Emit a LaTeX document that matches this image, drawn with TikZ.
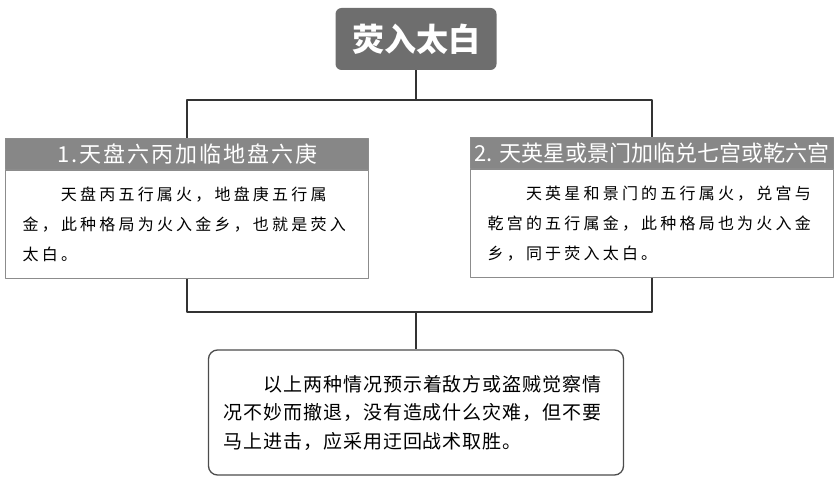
\documentclass[tikz,border=0pt]{standalone}
\usepackage{fontspec}
\setmainfont{Noto Sans CJK SC}
\newfontfamily\bodyfont[LetterSpace=20]{Noto Sans CJK SC}
\newfontfamily\notefont[LetterSpace=5]{Noto Sans CJK SC}
\newfontfamily\headfont[LetterSpace=9]{Noto Sans CJK SC}
\usetikzlibrary{positioning,calc}
\definecolor{titlegray}{HTML}{6E6E6E}
\definecolor{headgray}{HTML}{878787}
\definecolor{framegray}{HTML}{8C8C8C}
\definecolor{linegray}{HTML}{333333}

\begin{document}
\begin{tikzpicture}[join=round,x=1pt,y=-1pt,node distance=0pt]
		\tikzstyle{title_box}=[fill=titlegray, rounded corners=6pt, minimum width=161pt, minimum height=62pt, inner sep=0pt, text=white, font=\fontsize{32}{32}\selectfont\bfseries];
		\tikzstyle{head_bar}=[fill=headgray, draw=framegray, line width=1.2pt, minimum width=363pt, minimum height=31pt, inner sep=0pt, text=white, font=\fontsize{22}{22}\selectfont];
		\tikzstyle{body_box}=[draw=framegray, line width=1.2pt, fill=white, text width=329pt, inner xsep=17pt, inner ysep=0pt, minimum height=108pt, align=left, font=\bodyfont\fontsize{16}{30}\selectfont];
		\tikzstyle{end_box}=[draw=black!70, line width=1.3pt, rounded corners=9pt, fill=white, text width=385pt, inner xsep=15pt, inner ysep=0pt, minimum height=125pt, align=left, font=\notefont\fontsize{19}{28.5}\selectfont];
		\tikzstyle{conn_line}=[draw=linegray, line width=2.2pt];

		\useasboundingbox (0,0) rectangle (838,484);

		\coordinate (upbar) at (416,100);
		\coordinate (lowbar) at (416,312);

		\node[title_box] (title) at (416,39) {荧入太白};

		\node[head_bar, anchor=north west] (headA) at (5,138) {\headfont 1.天盘六丙加临地盘六庚};
		\node[body_box, below = of headA] (bodyA) {\hspace*{2.4em}天盘丙五行属火，地盘庚五行属\\金，此种格局为火入金乡，也就是荧入\\太白。};

		\node[head_bar, anchor=north west] (headB) at (470,137) {2. 天英星或景门加临兑七宫或乾六宫};
		\node[body_box, below = of headB] (bodyB) {\hspace*{2.4em}天英星和景门的五行属火，兑宫与\\乾宫的五行属金，此种格局也为火入金\\乡，同于荧入太白。};

		\node[end_box] (ending) at (416,412.5) {\hspace*{2.1em}以上两种情况预示着敌方或盗贼觉察情\\况不妙而撤退，没有造成什么灾难，但不要\\马上进击，应采用迂回战术取胜。};

		\draw[conn_line] (title.south) -- (upbar);
		\draw[conn_line] (headA.north) |- (upbar) -| (headB.north);
		\draw[conn_line] (bodyA.south) |- (lowbar) -| (bodyB.south);
		\draw[conn_line] (lowbar) -- (ending.north);

	\end{tikzpicture}
\end{document}
